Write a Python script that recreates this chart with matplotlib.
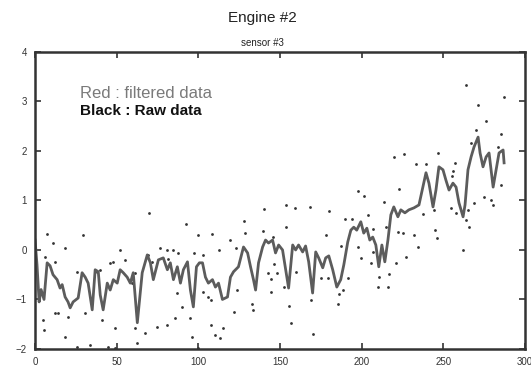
import numpy as np
import matplotlib
matplotlib.use("Agg")
import matplotlib.pyplot as plt

plt.rcParams["font.family"] = ["Liberation Sans", "DejaVu Sans"]

# filtered signal
filt_x = [0, 1.2, 2.5, 3.7, 5.5, 7.4, 9.2, 11.0, 13.5, 15.3, 16.6, 18.4, 20.2, 21.5,
          23.3, 25.2, 26.4, 28.8, 30.7, 32.5, 35.0, 36.8, 38.7, 39.9, 41.7, 44.2, 46.0,
          47.9, 50.3, 52.1, 54.0, 56.4, 58.3, 60.1, 62.6, 65.6, 68.7, 70.6, 72.4, 75.5,
          78.5, 81.0, 82.8, 84.7, 87.1, 89.0, 90.8, 93.3, 95.1, 96.9, 98.8, 100.6, 102.5,
          104.3, 106.1, 108.6, 110.4, 112.3, 114.7, 117.8, 119.6, 121.5, 124.5, 127.6,
          130.1, 131.9, 133.7, 135.0, 136.8, 139.3, 141.1, 142.9, 145.4, 147.2, 149.1,
          151.5, 153.4, 155.2, 157.7, 159.5, 161.3, 163.8, 165.6, 167.5, 169.9, 171.8,
          173.6, 176.1, 177.9, 179.8, 182.2, 184.7, 187.1, 189.0, 191.4, 193.3, 195.1,
          196.9, 199.4, 201.2, 203.1, 204.9, 206.7, 208.6, 210.4, 212.3, 214.1, 216.0,
          217.8, 219.6, 222.1, 223.9, 226.4, 228.8, 231.9, 235.0, 237.4, 239.3, 241.1,
          243.6, 245.4, 247.2, 249.7, 251.5, 253.4, 255.8, 257.7, 259.5, 262.0, 263.2,
          265.0, 266.9, 268.7, 271.2, 272.4, 274.2, 276.1, 277.9, 280.4, 282.2, 284.0,
          286.5, 287.1]
filt_y = [0.2, -0.3, -1.05, -0.8, -1.0, -0.26, -0.32, -0.5, -0.6, -0.77, -0.7, -0.95,
          -1.05, -1.17, -1.05, -1.0, -0.97, -0.46, -0.55, -0.67, -1.21, -0.4, -0.44, -0.91,
          -1.21, -0.67, -0.81, -0.6, -0.67, -0.4, -0.46, -0.55, -0.67, -0.46, -1.47, -0.46,
          -0.1, -0.26, -0.6, -0.2, -0.16, -0.4, -0.26, -0.6, -0.34, -0.67, -0.4, -0.24,
          -0.81, -1.15, -0.34, -0.26, -0.26, -0.55, -0.67, -0.6, -0.75, -0.67, -1.0, -0.95,
          -0.55, -0.44, -0.34, 0.06, -0.06, -0.34, -0.6, -0.81, -0.26, 0.06, 0.2, 0.14,
          0.2, -0.06, 0.1, 0.0, -0.4, -0.77, 0.1, 0.0, 0.1, -0.04, 0.08, -0.24, -0.87,
          -0.04, -0.16, -0.36, -0.16, -0.12, -0.4, -0.75, -0.6, -0.3, 0.16, 0.4, 0.46, 0.4,
          0.57, 0.34, 0.44, 0.2, 0.26, 0.1, -0.34, 0.1, -0.24, 0.2, 0.71, 0.87, 0.67, 0.81,
          0.75, 0.81, 0.85, 0.91, 1.27, 1.56, 1.35, 0.87, 1.21, 1.68, 1.62, 1.41, 1.21,
          1.35, 1.27, 0.95, 0.67, 0.91, 1.62, 1.88, 2.08, 2.28, 1.96, 1.68, 1.88, 1.96,
          1.27, 1.62, 1.96, 2.02, 1.76]

# raw samples
raw_x = [6.1, 7.4, 11.0, 29.4, 18.4, 12.3, 4.9, 5.5, 12.3, 14.1, 18.4, 20.2, 25.8, 30.7,
         25.8, 33.7, 39.9, 38.0, 46.0, 47.9, 44.8, 49.1, 41.1, 52.1, 55.2, 49.1, 61.3,
         59.5, 61.3, 67.5, 62.6, 69.3, 74.8, 81.0, 76.7, 81.0, 84.7, 87.7, 90.2, 85.9,
         95.1, 96.3, 100.0, 97.5, 69.9, 92.6, 71.8, 81.6, 100.0, 87.1, 102.5, 103.1,
         106.1, 107.4, 110.4, 113.5, 115.3, 112.3, 121.5, 123.9, 119.6, 128.8, 133.7,
         142.3, 139.9, 127.6, 108.6, 139.3, 122.7, 145.4, 146.0, 144.2, 107.4, 132.5,
         144.2, 147.9, 153.4, 158.9, 168.1, 179.8, 189.6, 193.9, 187.1, 177.9, 153.4,
         155.2, 156.4, 168.7, 169.9, 185.3, 185.9, 188.3, 191.4, 174.8, 179.1, 159.5,
         197.5, 152.1, 219.6, 225.8, 246.6, 233.1, 239.3, 222.7, 197.5, 201.2, 213.5,
         237.4, 244.2, 203.7, 231.9, 225.2, 222.1, 214.7, 206.7, 206.7, 234.4, 244.8,
         246.0, 199.4, 205.5, 220.9, 227.0, 210.4, 216.6, 209.8, 216.0, 257.1, 255.8,
         254.6, 257.7, 265.6, 263.8, 262.0, 263.8, 271.2, 287.1, 276.1, 269.9, 285.3,
         266.9, 283.4, 274.8, 279.1, 280.4, 285.3, 268.7, 265.0, 255.2]
raw_y = [-0.14, 0.32, 0.14, 0.30, 0.04, -0.24, -1.41, -1.62, -1.27, -1.27, -1.76, -1.35,
         -0.44, -1.27, -1.96, -1.92, -0.40, -0.44, -0.26, -0.24, -1.96, -1.98, -1.41, 0.0,
         -0.20, -1.58, -0.46, -0.67, -1.58, -1.68, -1.88, -0.10, -1.56, -1.52, 0.04, 0.0,
         0.0, -0.06, -1.15, -1.37, -1.37, -1.76, -1.98, -0.06, 0.75, 0.53, -0.24, -0.18,
         0.30, -0.87, -0.10, -0.85, -0.95, -1.52, -1.72, -1.78, -1.58, 0.0, -1.25, -0.81,
         0.20, 0.34, -1.21, -0.46, 0.83, 0.59, 0.32, 0.38, 0.04, 0.26, -0.28, -0.85,
         -1.01, -1.09, -0.59, -0.46, 0.91, 0.85, 0.87, 0.79, 0.63, 0.63, 0.08, 0.30, 0.46,
         -1.13, -1.47, -1.01, -1.70, -1.09, -0.89, -0.81, -0.57, -0.57, -0.57, -0.44,
         0.06, -0.75, 1.88, 1.94, 1.96, 1.74, 1.74, 1.23, 1.19, 1.09, 0.97, 0.73, 0.81,
         0.71, 0.30, 0.34, 0.36, 0.46, 0.42, -0.04, 0.06, 0.40, 0.24, -0.16, -0.26, -0.26,
         -0.14, -0.55, -0.48, -0.75, -0.75, 1.76, 1.60, 0.85, 0.75, 0.46, 0.61, 0.0, 3.33,
         2.93, 3.09, 2.61, 2.42, 2.34, 2.16, 2.08, 1.07, 1.01, 0.91, 1.31, 0.95, 0.81,
         1.49]

x_ticks = [0, 50, 100, 150, 200, 250, 300]
y_ticks = [-2, -1, 0, 1, 2, 3, 4]

fig = plt.figure(figsize=(5.31, 3.74), dpi=100)
ax = fig.add_axes([0.066, 0.067, 0.923, 0.794])

ax.plot(raw_x, raw_y, "o", color="#333333", markersize=2.0, markeredgewidth=0)
ax.plot(filt_x, filt_y, "-", color="#5c5c5c", linewidth=2.0)

ax.set_xlim(0, 300)
ax.set_ylim(-2, 4)
ax.set_xticks(x_ticks)
ax.set_yticks(y_ticks)
ax.tick_params(direction="in", length=4, width=1.2, top=True, right=True,
               labelsize=7, colors="#333333", pad=6)
for s in ax.spines.values():
    s.set_linewidth(1.8)
    s.set_color("#333333")

ax.text(0.092, 0.86, "Red : filtered data", transform=ax.transAxes,
        fontsize=12, color="#7a7a7a", va="center")
ax.text(0.092, 0.80, "Black : Raw data", transform=ax.transAxes,
        fontsize=11, color="#111111", fontweight="bold", va="center")

fig.text(0.494, 0.952, "Engine #2", fontsize=11, ha="center", va="center", color="#222222")
fig.text(0.494, 0.886, "sensor #3", fontsize=7, ha="center", va="center", color="#222222")

fig.savefig("out.png", dpi=100)
